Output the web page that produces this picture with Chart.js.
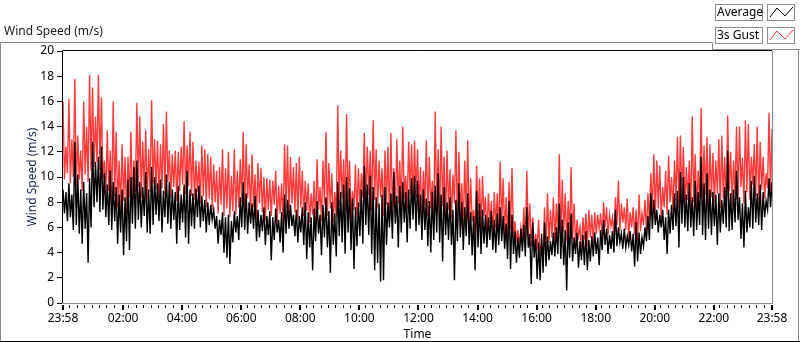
<!DOCTYPE html>
<html>
<head>
<meta charset="utf-8">
<script src="https://cdn.jsdelivr.net/npm/chart.js@4.4.0/dist/chart.umd.min.js"></script>
<style>
  html, body { margin: 0; padding: 0; background: #fff; }
  #wrap { position: relative; width: 800px; height: 342px; }
</style>
</head>
<body>
<div id="wrap"><canvas id="windChart" width="800" height="342"></canvas></div>
<script>
// series: one value every 3 minutes starting at 23:58
var stepMinutes = 3;
var startMinuteOfDay = 23 * 60 + 58;

var gustSpeed = [
  16.0, 9.8, 12.4, 10.3, 16.2, 9.5, 13.0, 10.0, 17.8, 9.2,
  13.3, 9.8, 12.1, 8.9, 16.0, 10.2, 14.0, 9.6, 18.1, 10.5,
  17.1, 10.8, 14.8, 11.2, 18.1, 10.6, 16.3, 9.8, 11.3, 8.6,
  13.7, 8.9, 12.1, 7.8, 16.0, 8.5, 13.6, 7.6, 11.3, 7.2,
  12.6, 8.1, 11.6, 7.0, 11.6, 8.4, 13.6, 7.8, 11.3, 8.8,
  15.9, 9.2, 14.8, 8.4, 12.8, 9.0, 13.7, 8.2, 12.2, 8.8,
  16.1, 9.5, 13.0, 9.0, 12.9, 8.3, 12.6, 9.1, 14.2, 8.6,
  15.2, 9.6, 12.1, 8.4, 11.8, 9.2, 12.1, 8.1, 12.0, 8.9,
  12.4, 9.4, 14.4, 8.6, 12.5, 9.3, 13.6, 8.5, 12.8, 8.2,
  11.3, 8.8, 11.2, 7.9, 12.5, 8.5, 12.2, 7.6, 11.8, 8.3,
  11.6, 7.4, 11.0, 8.0, 10.5, 7.1, 10.8, 7.8, 12.2, 6.9,
  10.7, 7.5, 12.0, 6.8, 10.1, 7.3, 12.2, 7.0, 10.5, 7.6,

  11.4, 8.0, 13.6, 7.4, 12.6, 8.3, 11.0, 6.9, 11.8, 7.6,
  10.2, 6.6, 11.1, 7.9, 10.7, 7.2, 10.0, 6.5, 9.9, 7.4,
  9.8, 6.9, 9.7, 7.8, 10.5, 6.4, 9.3, 7.1, 9.5, 6.2,
  12.6, 7.5, 12.5, 6.8, 11.6, 7.9, 10.8, 7.2, 11.1, 6.6,
  11.6, 7.6, 10.5, 6.9, 9.7, 7.3, 9.5, 6.4, 8.7, 7.0,
  9.7, 6.0, 11.4, 7.4, 9.2, 6.5, 11.3, 7.8, 13.6, 6.9,
  11.1, 7.5, 10.3, 6.4, 8.8, 6.8, 15.7, 7.7, 12.1, 8.3,
  11.4, 7.2, 15.0, 8.0, 11.3, 6.6, 8.9, 7.4, 11.0, 6.8,
  10.7, 7.6, 10.3, 8.4, 13.5, 7.8, 12.4, 8.6, 12.1, 7.3,
  14.5, 8.2, 12.2, 7.5, 11.3, 8.4, 10.7, 6.9, 12.1, 7.8,
  12.4, 6.5, 13.5, 7.6, 10.7, 6.8, 13.0, 7.9, 11.3, 7.2,
  14.0, 8.3, 10.1, 7.5, 12.8, 8.6, 12.6, 7.8, 12.9, 8.4,

  12.2, 7.6, 10.8, 6.6, 10.5, 7.8, 12.9, 6.9, 11.6, 7.5,
  9.7, 6.4, 15.2, 7.2, 12.2, 6.6, 14.0, 7.7, 11.6, 6.3,
  12.1, 7.4, 10.6, 6.7, 10.2, 7.9, 13.7, 6.1, 12.0, 7.0,
  9.5, 5.9, 11.3, 6.8, 12.9, 5.6, 9.9, 6.5, 7.4, 5.3,
  10.9, 6.6, 9.9, 5.8, 10.1, 6.9, 8.4, 5.5, 8.7, 6.3,
  8.1, 5.2, 8.8, 6.0, 8.7, 5.6, 11.2, 6.4, 9.9, 5.5,
  8.4, 4.9, 9.6, 5.9, 10.7, 5.2, 6.5, 4.8, 5.8, 4.4,
  6.0, 5.1, 7.6, 4.6, 10.5, 5.3, 7.9, 4.5, 6.8, 4.0,
  5.5, 4.2, 6.6, 3.7, 4.6, 3.3, 7.6, 4.1, 8.7, 4.8,
  7.4, 5.2, 8.4, 4.7, 7.9, 5.4, 11.8, 5.0, 9.8, 5.6,
  8.7, 4.9, 8.1, 5.5, 10.8, 5.1, 7.9, 4.6, 6.6, 5.3,
  6.0, 4.4, 6.8, 5.0, 7.1, 4.5, 7.4, 5.2, 7.0, 4.8,

  7.2, 5.5, 7.0, 5.9, 7.1, 5.2, 8.0, 6.0, 7.6, 5.4,
  7.0, 6.1, 6.8, 5.3, 8.4, 6.2, 9.7, 5.7, 7.9, 6.4,
  7.6, 5.8, 8.3, 5.1, 7.2, 6.0, 7.6, 5.4, 7.4, 4.9,
  8.6, 5.7, 7.1, 6.2, 8.2, 5.6, 8.7, 6.5, 10.3, 7.3,
  11.8, 6.9, 11.3, 7.5, 10.9, 6.7, 9.2, 7.6, 10.5, 7.0,
  11.7, 8.0, 10.0, 7.3, 11.3, 8.1, 13.2, 7.5, 13.3, 8.4,
  12.4, 7.6, 10.8, 8.2, 11.3, 7.1, 14.8, 8.0, 11.8, 7.4,
  10.5, 8.3, 15.5, 7.7, 12.5, 8.6, 13.2, 7.3, 12.6, 8.4,
  11.9, 7.9, 11.3, 8.7, 13.0, 7.5, 13.3, 8.3, 11.6, 7.6,
  14.9, 8.9, 12.0, 7.8, 11.3, 8.7, 14.0, 8.0, 14.0, 9.2,
  11.5, 7.9, 14.5, 8.8, 14.2, 8.2, 11.6, 9.4, 12.6, 8.5,
  14.0, 7.8, 12.8, 9.0, 11.6, 8.3, 10.3, 9.1, 15.1, 8.6,
  13.8
];

var averageSpeed = [
  9.0, 7.1, 8.8, 6.5, 9.5, 6.8, 8.6, 5.8, 12.8, 6.2,
  10.2, 5.5, 9.0, 4.7, 9.6, 5.9, 8.7, 3.2, 9.9, 6.0,
  12.8, 7.6, 11.2, 8.0, 11.6, 7.2, 12.4, 7.4, 10.3, 6.8,
  9.4, 6.2, 10.5, 5.8, 9.6, 6.5, 9.2, 4.7, 8.6, 5.6,
  9.0, 3.8, 8.4, 4.9, 9.8, 4.2, 10.0, 6.3, 10.8, 5.9,
  11.3, 6.6, 9.6, 6.0, 9.2, 6.9, 10.4, 5.6, 9.0, 5.5,
  10.8, 6.2, 10.0, 7.0, 9.5, 6.5, 9.8, 5.6, 8.9, 6.8,
  10.2, 6.3, 9.6, 5.9, 9.0, 6.6, 8.8, 4.7, 9.3, 5.8,
  8.6, 6.4, 9.4, 5.2, 10.5, 4.7, 9.0, 6.1, 8.7, 5.9,
  9.1, 6.8, 9.3, 6.0, 8.5, 6.5, 8.2, 5.6, 8.0, 6.2,
  7.8, 6.6, 7.4, 5.9, 6.9, 4.7, 6.6, 5.4, 7.2, 4.0,
  6.8, 3.6, 7.0, 3.1, 6.5, 4.8, 7.3, 5.6, 6.9, 5.0,

  8.4, 6.0, 9.6, 5.8, 8.7, 5.5, 8.0, 6.3, 7.9, 5.9,
  8.5, 4.9, 7.4, 5.2, 7.0, 5.7, 7.6, 4.6, 6.9, 5.4,
  7.3, 3.4, 6.8, 5.0, 7.5, 5.6, 6.6, 4.8, 7.2, 4.0,
  8.6, 5.5, 8.2, 5.9, 7.8, 6.1, 7.0, 5.3, 7.4, 4.8,
  6.9, 5.6, 7.6, 4.6, 8.0, 3.5, 7.2, 4.4, 6.8, 2.6,
  7.5, 4.9, 8.1, 5.5, 7.0, 3.8, 7.8, 5.2, 8.4, 4.4,
  7.3, 2.4, 8.0, 4.6, 7.1, 3.7, 9.6, 5.3, 8.8, 4.8,
  9.4, 3.9, 10.0, 5.6, 9.1, 4.2, 8.3, 2.7, 7.6, 4.5,
  8.0, 5.3, 9.0, 4.7, 10.9, 6.2, 9.4, 5.4, 10.1, 3.9,
  9.2, 2.6, 8.4, 3.2, 7.9, 1.7, 8.6, 1.8, 9.2, 4.6,
  8.0, 6.0, 8.7, 5.1, 10.4, 6.3, 8.5, 4.4, 9.3, 5.6,
  9.6, 6.4, 8.8, 4.8, 9.0, 5.9, 9.9, 6.6, 10.1, 5.7,

  9.7, 6.2, 8.6, 5.0, 9.0, 5.8, 8.3, 4.5, 8.1, 4.0,
  8.8, 5.0, 9.3, 5.6, 10.3, 4.8, 8.6, 3.3, 9.2, 5.4,
  8.0, 5.0, 8.4, 4.6, 7.4, 1.8, 8.2, 4.9, 9.5, 5.2,
  8.0, 4.2, 7.6, 5.3, 8.7, 4.6, 7.2, 3.8, 6.9, 2.6,
  8.9, 4.4, 7.9, 3.9, 7.4, 4.7, 7.0, 4.4, 6.8, 5.0,
  7.3, 4.2, 6.6, 4.0, 7.1, 4.6, 7.6, 4.9, 6.9, 4.3,
  6.3, 3.5, 8.1, 2.7, 7.0, 3.9, 5.7, 3.2, 5.2, 3.6,
  5.9, 4.1, 6.2, 3.7, 7.6, 4.4, 5.5, 1.5, 6.4, 3.6,
  5.1, 1.9, 4.8, 1.8, 5.5, 2.4, 6.4, 2.9, 5.3, 3.4,
  4.9, 3.8, 5.6, 3.7, 6.0, 3.9, 7.9, 3.5, 6.6, 3.0,
  5.8, 1.0, 6.4, 3.6, 7.1, 3.3, 5.2, 3.9, 5.6, 2.8,
  4.9, 3.4, 5.4, 3.0, 5.7, 2.6, 5.0, 3.3, 5.3, 3.7,

  5.6, 3.9, 5.2, 3.0, 5.8, 4.2, 6.6, 4.6, 5.9, 3.9,
  5.4, 4.3, 5.7, 4.0, 7.4, 4.5, 6.0, 4.8, 5.5, 4.3,
  5.9, 4.4, 5.3, 4.6, 5.7, 4.1, 5.5, 2.9, 6.4, 3.3,
  5.6, 3.9, 5.2, 4.5, 6.0, 4.9, 6.9, 5.0, 8.7, 5.9,
  8.2, 6.2, 7.4, 5.6, 7.0, 6.0, 7.4, 5.0, 6.8, 3.9,
  7.4, 5.5, 7.8, 5.8, 8.7, 6.1, 8.9, 4.4, 10.4, 6.3,
  10.0, 6.0, 8.6, 5.7, 9.5, 6.0, 8.4, 5.3, 9.7, 5.8,
  8.8, 6.2, 11.6, 5.4, 9.5, 5.0, 10.3, 5.9, 9.0, 5.4,
  8.8, 6.1, 8.6, 4.6, 8.7, 5.6, 8.2, 6.3, 9.2, 6.0,
  12.1, 5.7, 8.7, 5.8, 9.0, 6.4, 10.5, 6.6, 8.4, 5.1,
  7.9, 4.4, 8.9, 5.6, 7.6, 6.0, 9.7, 5.9, 10.1, 6.4,
  8.7, 6.2, 9.4, 5.8, 8.8, 6.8, 8.1, 7.4, 9.9, 7.6,
  9.6
];

var timeLabels = ['23:58', '02:00', '04:00', '06:00', '08:00', '10:00', '12:00',
                  '14:00', '16:00', '18:00', '20:00', '22:00', '23:58'];
var yTicks = [0, 2, 4, 6, 8, 10, 12, 14, 16, 18, 20];
var seriesNames = ['Average', '3s Gust'];
var seriesColors = ['#000000', '#ff3c3c'];

var FONT = "'Noto Sans', 'Open Sans', sans-serif";
var spanMinutes = 1440;

function toMinutes(label, idx) {
    if (idx === timeLabels.length - 1) return spanMinutes;
    var p = label.split(':');
    var m = (+p[0]) * 60 + (+p[1]);
    return (m - startMinuteOfDay + 1440) % 1440;
}
var tickMinutes = timeLabels.map(toMinutes);

function points(arr) {
    return arr.map(function (v, i) { return { x: i * stepMinutes, y: v }; });
}

// frame, small x ticks, caption and legend, drawn like the LabVIEW graph
var graphDecor = {
    id: 'graphDecor',
    afterDraw: function (chart) {
        var c = chart.ctx, a = chart.chartArea, xs = chart.scales.x;
        c.save();
        // outer control border
        c.strokeStyle = '#8c8c8c';
        c.lineWidth = 1;
        c.beginPath();
        c.moveTo(0, 42.5); c.lineTo(712.5, 42.5); c.lineTo(712.5, 49.5); c.lineTo(800, 49.5);
        c.moveTo(0.5, 42); c.lineTo(0.5, 342);
        c.moveTo(798.5, 50); c.lineTo(798.5, 342);
        c.stroke();
        c.strokeStyle = '#000';
        c.beginPath(); c.moveTo(0, 341.5); c.lineTo(800, 341.5); c.stroke();

        // plot frame
        c.strokeStyle = '#000';
        c.beginPath();
        c.moveTo(a.left - 0.5, a.bottom); c.lineTo(a.left - 0.5, a.top - 0.5); c.lineTo(a.right, a.top - 0.5);
        c.stroke();
        c.strokeStyle = '#8c8c8c';
        c.beginPath();
        c.moveTo(a.right + 0.5, a.top); c.lineTo(a.right + 0.5, a.bottom + 0.5); c.lineTo(a.left - 1, a.bottom + 0.5);
        c.stroke();

        // x ticks: major at labels, minor every 15 min of clock time
        c.fillStyle = '#000';
        tickMinutes.forEach(function (m) {
            var px = Math.round(xs.getPixelForValue(m));
            c.fillRect(px - 1, a.bottom + 2, 2, 5);
        });
        for (var t = 15; t < 1440; t += 15) {
            if (t % 120 === 0) continue;
            var px = Math.round(xs.getPixelForValue(t - 2));
            c.fillRect(px, a.bottom + 2, 1, 3);
        }

        // caption
        c.fillStyle = '#1a1a1a';
        c.font = '12px ' + FONT;
        c.textBaseline = 'middle';
        c.textAlign = 'left';
        c.fillText('Wind Speed (m/s)', 4, 32);

        // legend
        seriesNames.forEach(function (name, i) {
            var y = 4 + i * 23;
            c.fillStyle = '#fff';
            c.fillRect(715, y, 48, 17);
            c.strokeStyle = '#8c8c8c';
            c.strokeRect(715.5, y + 0.5, 47, 16);
            c.fillStyle = '#000';
            c.fillText(name, 717, y + 9);
            c.fillStyle = '#fff';
            c.fillRect(767, y, 28, 17);
            c.strokeRect(767.5, y + 0.5, 27, 16);
            c.strokeStyle = seriesColors[i];
            c.beginPath();
            c.moveTo(770, y + 13); c.lineTo(777, y + 4); c.lineTo(785, y + 12); c.lineTo(793, y + 3);
            c.stroke();
        });
        c.restore();
    }
};

var ctx = document.getElementById('windChart').getContext('2d');
var windChart = new Chart(ctx, {
    type: 'line',
    data: {
        datasets: [{
            label: seriesNames[0],
            data: points(averageSpeed),
            borderColor: seriesColors[0],
            borderWidth: 1.4,
            pointRadius: 0
        }, {
            label: seriesNames[1],
            data: points(gustSpeed),
            borderColor: seriesColors[1],
            borderWidth: 1.4,
            pointRadius: 0
        }]
    },
    options: {
        responsive: false,
        animation: false,
        devicePixelRatio: 1,
        parsing: false,
        layout: { padding: { top: 51, right: 28, left: 0, bottom: 0 } },
        elements: { line: { tension: 0, borderJoinStyle: 'miter' } },
        plugins: { legend: { display: false }, tooltip: { enabled: false } },
        scales: {
            x: {
                type: 'linear',
                min: 0,
                max: spanMinutes,
                afterFit: function (s) { s.height = 39; },
                afterBuildTicks: function (s) {
                    s.ticks = tickMinutes.map(function (m) { return { value: m }; });
                },
                grid: { display: false, drawTicks: false },
                border: { display: false },
                ticks: {
                    padding: 8,
                    maxRotation: 0,
                    autoSkip: false,
                    color: '#000',
                    font: { family: FONT, size: 12 },
                    callback: function (v) {
                        var i = tickMinutes.indexOf(v);
                        return i >= 0 ? timeLabels[i] : '';
                    }
                },
                title: {
                    display: true,
                    text: 'Time',
                    color: '#000',
                    padding: { top: 0, bottom: 0 },
                    font: { family: FONT, size: 12 }
                }
            },
            y: {
                min: 0,
                max: 20,
                afterFit: function (s) { s.width = 63; },
                afterBuildTicks: function (s) {
                    s.ticks = yTicks.map(function (v) { return { value: v }; });
                },
                grid: { drawOnChartArea: false, tickLength: 6, color: '#000' },
                border: { display: false },
                ticks: {
                    padding: 3,
                    color: '#000',
                    font: { family: FONT, size: 12 }
                },
                title: {
                    display: true,
                    text: 'Wind Speed (m/s)',
                    color: '#1a2550',
                    padding: { top: 25, bottom: 0 },
                    font: { family: FONT, size: 12 }
                }
            }
        }
    },
    plugins: [graphDecor]
});
</script>
</body>
</html>
